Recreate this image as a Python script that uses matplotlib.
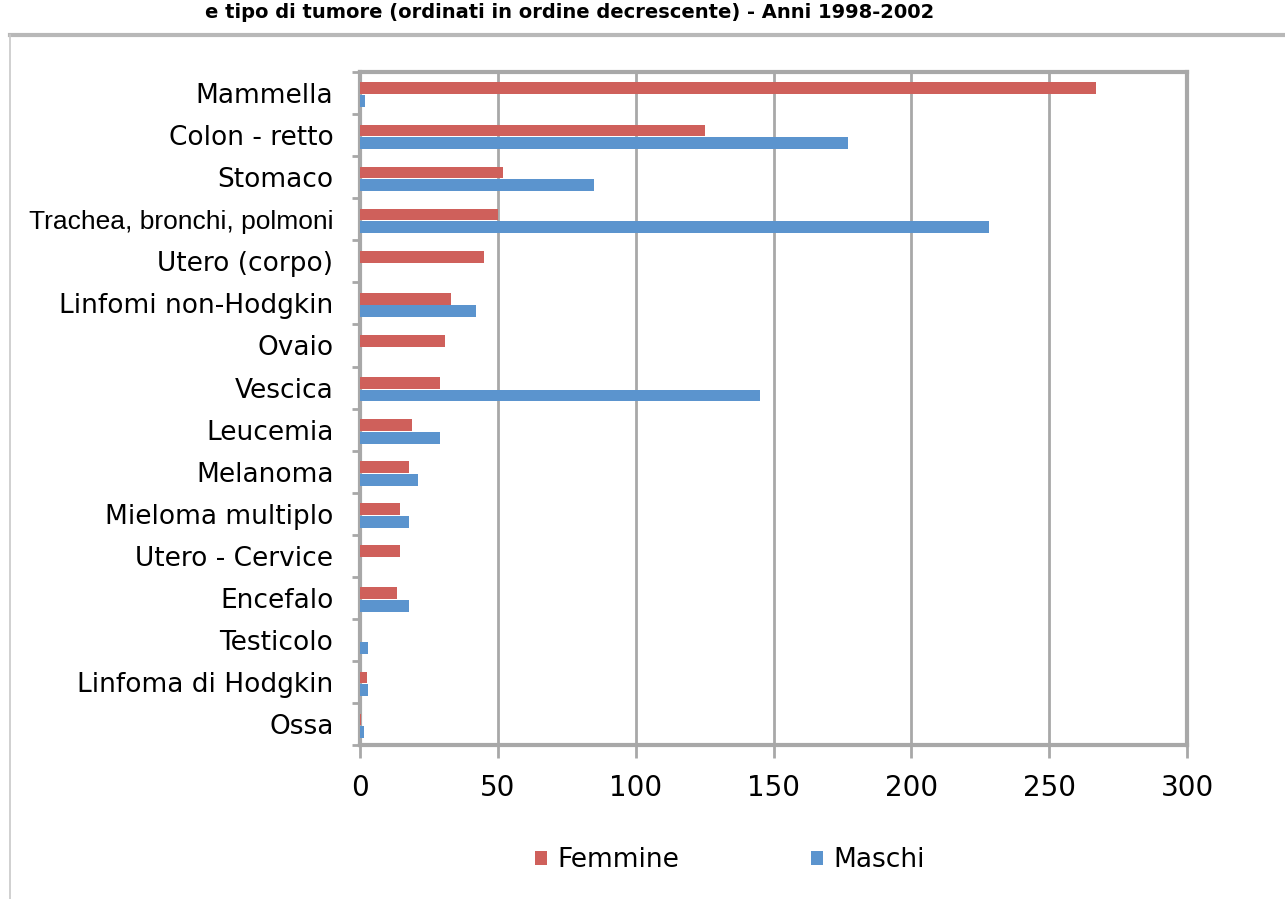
"""Incidenza tumori per sede e sesso, barre orizzontali (stile Excel)."""
import matplotlib
matplotlib.use("Agg")
import matplotlib.pyplot as plt
from matplotlib.lines import Line2D
import numpy as np

sedi = ["Mammella", "Colon - retto", "Stomaco", "Trachea, bronchi, polmoni",
        "Utero (corpo)", "Linfomi non-Hodgkin", "Ovaio", "Vescica", "Leucemia",
        "Melanoma", "Mieloma multiplo", "Utero - Cervice", "Encefalo",
        "Testicolo", "Linfoma di Hodgkin", "Ossa"]
femmine = [267, 125, 52, 50, 45, 33, 31, 29, 19, 18, 14.5, 14.5, 13.5, 0, 2.5, 0.5]
maschi = [2, 177, 85, 228, 0, 42, 0, 145, 29, 21, 18, 0, 18, 3, 3, 1.5]
xticks = [0, 50, 100, 150, 200, 250, 300]

RED = "#CF605B"
BLUE = "#5B94CE"
GRID = "#A8A8A8"

fig = plt.figure(figsize=(12.85, 8.99), dpi=100)
ax = fig.add_axes([0.280, 0.171, 0.644, 0.749])

y = np.arange(len(sedi))
h = 0.28
ax.barh(y - 0.11, femmine, h, color=RED, label="Femmine", zorder=3)
ax.barh(y + 0.19, maschi, h, color=BLUE, label="Maschi", zorder=3)

ax.set_xlim(0, 300)
ax.set_ylim(len(sedi) - 0.5, -0.5)
ax.set_xticks(xticks)
ax.set_xticklabels([str(v) for v in xticks], fontsize=20)
ax.set_yticks(y)
ax.set_yticklabels(sedi, fontsize=19)
ax.set_yticks(np.arange(len(sedi) + 1) - 0.5, minor=True)
ax.tick_params(axis="y", which="major", length=0, pad=19)
ax.tick_params(axis="y", which="minor", length=6, width=2, color=GRID)
ax.tick_params(axis="x", length=9, width=2, color=GRID, pad=12)
for lab in ax.get_yticklabels():
    if lab.get_text().startswith("Trachea"):
        lab.set_fontfamily("Liberation Sans")
        lab.set_fontsize(19)

ax.grid(axis="x", color=GRID, lw=2, zorder=0)
for s in ax.spines.values():
    s.set_color(GRID)
    s.set_linewidth(3)

ax.legend(loc="center", bbox_to_anchor=(0.568, 0.043), bbox_transform=fig.transFigure,
          ncol=2, frameon=False, fontsize=19, handlelength=0.45, handleheight=0.45,
          handletextpad=0.4, columnspacing=5.0)

# cornice esterna del grafico
W, H = 1285, 899
fig.add_artist(Line2D([10 / W, 1], [1 - 35 / H, 1 - 35 / H], color="#B8B8B8", lw=3,
                      transform=fig.transFigure))
fig.add_artist(Line2D([10 / W, 10 / W], [0, 1 - 35 / H], color="#C8C8C8", lw=1.2,
                      transform=fig.transFigure))

# titolo (in alto, sopra la cornice)
fig.text(205 / W, 1 - 3 / H, "e tipo di tumore (ordinati in ordine decrescente) - Anni 1998-2002",
         fontsize=14, fontweight="bold", va="top", ha="left")

fig.savefig("out.png", dpi=100)
